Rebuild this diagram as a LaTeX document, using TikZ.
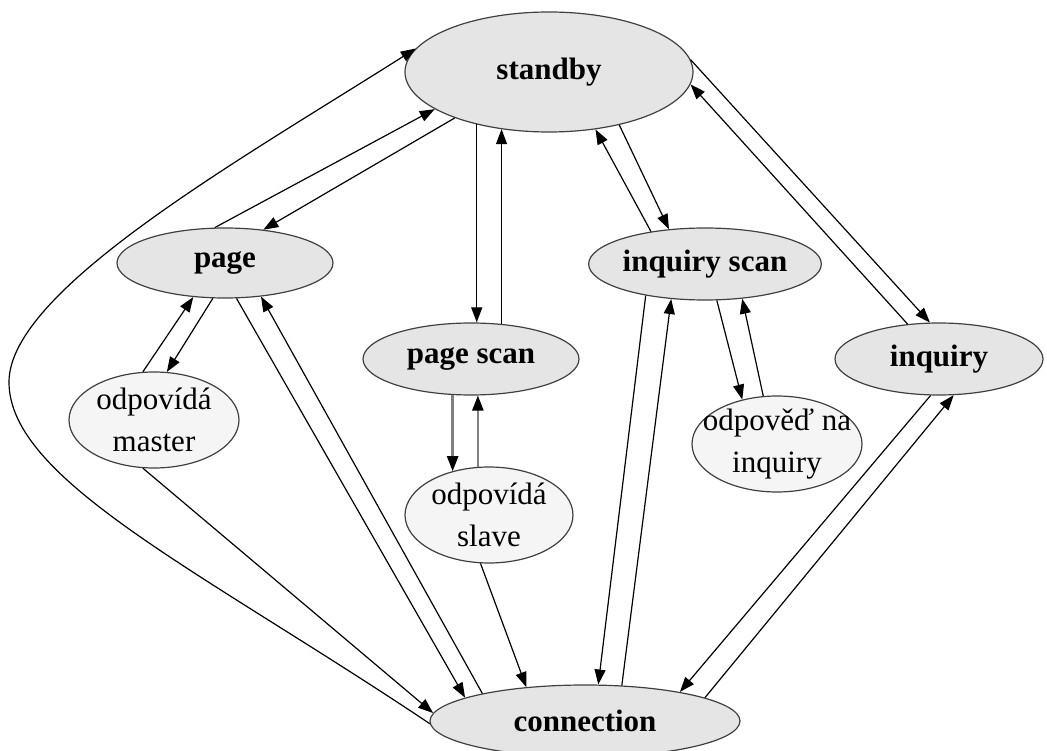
\documentclass[tikz,border=0pt]{standalone}
\usepackage{fontspec}
\setmainfont{Liberation Serif}
\usetikzlibrary{shapes.geometric,arrows.meta}

\tikzset{
  state/.style={ellipse, draw=black!75, line width=1.2pt, fill=gray!20,
    inner sep=0pt, font=\fontsize{31}{42}\selectfont\bfseries},
  substate/.style={ellipse, draw=black!75, line width=1.2pt, fill=gray!8,
    inner sep=0pt},
  subtext/.style={inner sep=0pt, align=center,
    font=\fontsize{31}{42}\selectfont},
  arr/.style={draw=black, line width=1.2pt,
    -{Triangle[length=15pt,width=11pt]}},
  grayarr/.style={draw=black!50, line width=2.4pt,
    -{Triangle[length=15pt,width=11pt,color=black]}},
}

\begin{document}
\begin{tikzpicture}[x=1pt,y=-1pt]
\useasboundingbox (0,0) rectangle (1047,751);

% states
\node[state, minimum width=288pt, minimum height=120pt] (standby) at (549,72) {standby};
\node[state, minimum width=216pt, minimum height=70pt] (page) at (225,263) {page};
\node[state, minimum width=216pt, minimum height=72pt] (pagescan) at (471,359) {page scan};
\node[state, minimum width=216pt, minimum height=72pt] (inqscan) at (705,264) {inquiry scan};
\node[state, minimum width=208pt, minimum height=72pt] (inquiry) at (939,359) {inquiry};
\node[state, minimum width=310pt, minimum height=72pt] (conn) at (585,721) {connection};

% sub-states
\node[substate, minimum width=170pt, minimum height=96pt] (master) at (154,420) {};
\node[subtext] (mastertext) at (master) {odpovídá\\master};
\node[substate, minimum width=168pt, minimum height=96pt] (slave) at (489,515) {};
\node[subtext] (slavetext) at (slave) {odpovídá\\slave};
\node[substate, minimum width=170pt, minimum height=96pt] (odp) at (777,444) {};
\node[subtext] (odptext) at (odp) {odpověď na\\inquiry};

% standby <-> page
\draw[arr] (standby.206) -- (page.41);
\draw[arr] (page.106) -- (standby.198);
% standby <-> page scan
\draw[arr] (standby.216) -- (standby.216 |- pagescan.north);
\draw[arr] (pagescan.49) -- (pagescan.49 |- standby.230);
% standby <-> inquiry scan
\draw[arr] (standby.323) -- (inqscan.136);
\draw[arr] (inqscan.149) -- (standby.309);
% standby <-> inquiry
\draw[arr] (standby.5) -- (inquiry.104);
\draw[arr] (inquiry.132) -- (standby.355);

% page <-> odpovida master
\draw[arr] (page.251) -- (master.75);
\draw[arr] (master.103) -- (page.227);
% page <-> connection
\draw[arr] (page.288) -- (conn.169);
\draw[arr] (conn.165) -- (page.317);
% odpovida master -> connection
\draw[arr] (master.257) -- (conn.177);

% page scan <-> odpovida slave
\draw[grayarr] (pagescan.243) -- (pagescan.243 |- slave.130);
\draw[grayarr] (slave.103) -- (slave.103 |- pagescan.281);
% odpovida slave -> connection
\draw[arr] (slave.260) -- (conn.150);

% inquiry scan <-> connection
\draw[arr] (inqscan.208) -- (conn.70);
\draw[arr] (conn.44) -- (inqscan.226);
% inquiry scan <-> odpoved na inquiry
\draw[arr] (inqscan.288) -- (odp.128);
\draw[arr] (odp.106) -- (inqscan.317);

% inquiry <-> connection
\draw[arr] (inquiry.257) -- (conn.17);
\draw[arr] (conn.11) -- (inquiry.292);

% connection -> standby, round the left side
\coordinate (leftbend) at (9,382);
\draw[arr] (conn.181) .. controls (200,570) and (9,480) .. (leftbend)
  .. controls (9,290) and (240,160) .. (standby.170);
\end{tikzpicture}
\end{document}
